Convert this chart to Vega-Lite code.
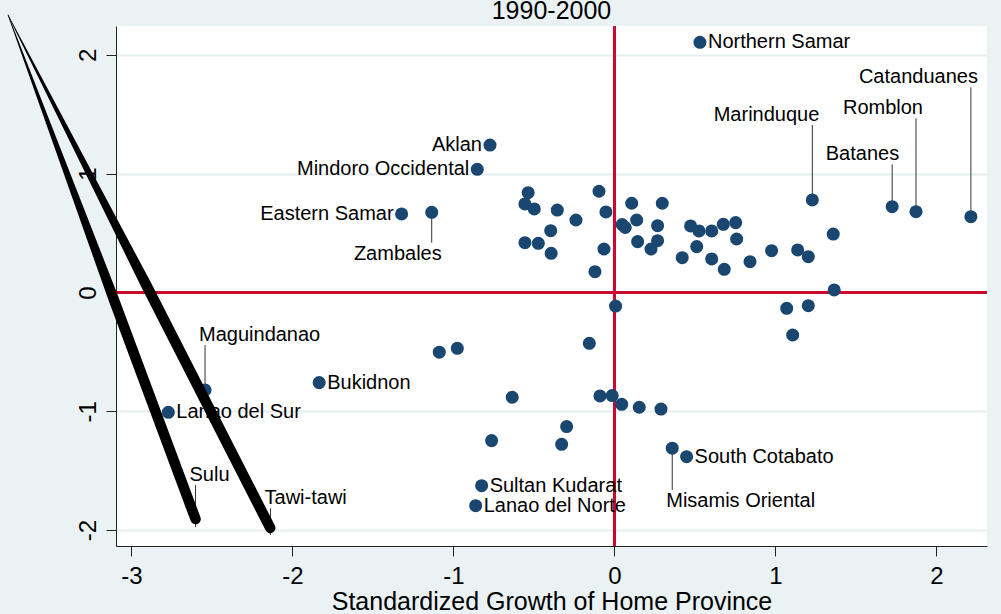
{
  "$schema": "https://vega.github.io/schema/vega-lite/v6.json",
  "width": 871,
  "height": 520,
  "autosize": {"type": "none"},
  "padding": {"left": 116, "top": 26, "right": 14, "bottom": 68},
  "background": "#eaf2f3",
  "datasets": {
    "prov": [
      {"name": "Northern Samar", "x": 0.531, "y": 2.106, "pos": "R"},
      {"name": "Aklan", "x": -0.773, "y": 1.241, "pos": "L"},
      {"name": "Mindoro Occidental", "x": -0.852, "y": 1.037, "pos": "L"},
      {"name": "Eastern Samar", "x": -1.322, "y": 0.661, "pos": "L"},
      {"name": "Zambales", "x": -1.135, "y": 0.675, "pos": "BR", "ly": 0.419},
      {"name": "Marinduque", "x": 1.229, "y": 0.779, "pos": "AR", "ly": 1.41},
      {"name": "Batanes", "x": 1.725, "y": 0.722, "pos": "AR", "ly": 1.079},
      {"name": "Romblon", "x": 1.873, "y": 0.68, "pos": "AR", "ly": 1.466},
      {"name": "Catanduanes", "x": 2.214, "y": 0.638, "pos": "AR", "ly": 1.727},
      {"name": "Maguindanao", "x": -2.543, "y": -0.821, "pos": "AL", "ly": -0.442},
      {"name": "Lanao del Sur", "x": -2.771, "y": -1.009, "pos": "R"},
      {"name": "Bukidnon", "x": -1.834, "y": -0.759, "pos": "R"},
      {"name": "Sultan Kudarat", "x": -0.825, "y": -1.626, "pos": "R"},
      {"name": "Lanao del Norte", "x": -0.862, "y": -1.795, "pos": "R"},
      {"name": "South Cotabato", "x": 0.448, "y": -1.382, "pos": "R"},
      {"name": "Misamis Oriental", "x": 0.359, "y": -1.311, "pos": "BL", "ly": -1.662},
      {"name": "Sulu", "x": -2.602, "y": -1.974, "pos": "AL", "ly": -1.62, "marker": false},
      {"name": "Tawi-tawi", "x": -2.136, "y": -2.041, "pos": "AL", "ly": -1.816, "marker": false},
      {"name": "", "x": -0.536, "y": 0.84, "pos": "none"},
      {"name": "", "x": -0.556, "y": 0.745, "pos": "none"},
      {"name": "", "x": -0.498, "y": 0.703, "pos": "none"},
      {"name": "", "x": -0.355, "y": 0.694, "pos": "none"},
      {"name": "", "x": -0.239, "y": 0.61, "pos": "none"},
      {"name": "", "x": -0.096, "y": 0.852, "pos": "none"},
      {"name": "", "x": -0.053, "y": 0.678, "pos": "none"},
      {"name": "", "x": -0.396, "y": 0.52, "pos": "none"},
      {"name": "", "x": -0.556, "y": 0.419, "pos": "none"},
      {"name": "", "x": -0.473, "y": 0.414, "pos": "none"},
      {"name": "", "x": -0.393, "y": 0.33, "pos": "none"},
      {"name": "", "x": -0.065, "y": 0.366, "pos": "none"},
      {"name": "", "x": -0.121, "y": 0.175, "pos": "none"},
      {"name": "", "x": 0.107, "y": 0.751, "pos": "none"},
      {"name": "", "x": 0.297, "y": 0.751, "pos": "none"},
      {"name": "", "x": 0.048, "y": 0.572, "pos": "none"},
      {"name": "", "x": 0.067, "y": 0.547, "pos": "none"},
      {"name": "", "x": 0.138, "y": 0.61, "pos": "none"},
      {"name": "", "x": 0.268, "y": 0.562, "pos": "none"},
      {"name": "", "x": 0.144, "y": 0.428, "pos": "none"},
      {"name": "", "x": 0.268, "y": 0.436, "pos": "none"},
      {"name": "", "x": 0.227, "y": 0.366, "pos": "none"},
      {"name": "", "x": 0.421, "y": 0.293, "pos": "none"},
      {"name": "", "x": 0.473, "y": 0.56, "pos": "none"},
      {"name": "", "x": 0.525, "y": 0.518, "pos": "none"},
      {"name": "", "x": 0.604, "y": 0.518, "pos": "none"},
      {"name": "", "x": 0.676, "y": 0.574, "pos": "none"},
      {"name": "", "x": 0.753, "y": 0.588, "pos": "none"},
      {"name": "", "x": 0.759, "y": 0.45, "pos": "none"},
      {"name": "", "x": 0.511, "y": 0.386, "pos": "none"},
      {"name": "", "x": 0.604, "y": 0.282, "pos": "none"},
      {"name": "", "x": 0.682, "y": 0.195, "pos": "none"},
      {"name": "", "x": 0.842, "y": 0.259, "pos": "none"},
      {"name": "", "x": 0.976, "y": 0.352, "pos": "none"},
      {"name": "", "x": 1.138, "y": 0.358, "pos": "none"},
      {"name": "", "x": 1.204, "y": 0.301, "pos": "none"},
      {"name": "", "x": 1.359, "y": 0.492, "pos": "none"},
      {"name": "", "x": 1.365, "y": 0.021, "pos": "none"},
      {"name": "", "x": 1.07, "y": -0.133, "pos": "none"},
      {"name": "", "x": 1.204, "y": -0.111, "pos": "none"},
      {"name": "", "x": 1.107, "y": -0.358, "pos": "none"},
      {"name": "", "x": 0.007, "y": -0.114, "pos": "none"},
      {"name": "", "x": -0.156, "y": -0.428, "pos": "none"},
      {"name": "", "x": -0.635, "y": -0.882, "pos": "none"},
      {"name": "", "x": -0.09, "y": -0.871, "pos": "none"},
      {"name": "", "x": -0.014, "y": -0.868, "pos": "none"},
      {"name": "", "x": 0.045, "y": -0.941, "pos": "none"},
      {"name": "", "x": 0.154, "y": -0.966, "pos": "none"},
      {"name": "", "x": 0.289, "y": -0.981, "pos": "none"},
      {"name": "", "x": -0.297, "y": -1.129, "pos": "none"},
      {"name": "", "x": -0.328, "y": -1.278, "pos": "none"},
      {"name": "", "x": -1.088, "y": -0.503, "pos": "none"},
      {"name": "", "x": -0.976, "y": -0.47, "pos": "none"},
      {"name": "", "x": -0.763, "y": -1.247, "pos": "none"}
    ],
    "arrows": [
      {"arrow": "Sulu", "seq": 0, "x": -3.767, "y": 2.336, "w": 0},
      {"arrow": "Sulu", "seq": 1, "x": -3.109, "y": -0.061, "w": 1},
      {"arrow": "Sulu", "seq": 2, "x": -2.602, "y": -1.907, "w": 1},
      {"arrow": "Tawi-tawi", "seq": 0, "x": -3.767, "y": 2.336, "w": 0},
      {"arrow": "Tawi-tawi", "seq": 1, "x": -2.909, "y": 0.065, "w": 1},
      {"arrow": "Tawi-tawi", "seq": 2, "x": -2.138, "y": -1.982, "w": 1}
    ],
    "heading": [
      {"title": "1990-2000", "x": -0.391, "y": 2.306}
    ]
  },
  "encoding": {
    "x": {
      "field": "x",
      "type": "quantitative",
      "scale": {"domain": [-3.096, 2.314], "nice": false, "zero": false},
      "axis": {
        "values": [-3, -2, -1, 0, 1, 2],
        "labelExpr": "toString(datum.value)",
        "grid": false,
        "title": "Standardized Growth of Home Province",
        "titleFontSize": 25,
        "titleFontWeight": "normal",
        "titleColor": "black",
        "titlePadding": 1,
        "labelFontSize": 24,
        "labelColor": "black",
        "labelPadding": 8,
        "tickSize": 10,
        "tickColor": "#222",
        "domainColor": "#222",
        "labelFlush": false,
        "zindex": 1
      }
    },
    "y": {
      "field": "y",
      "type": "quantitative",
      "scale": {"domain": [-2.134, 2.243], "nice": false, "zero": false},
      "axis": {
        "values": [-2, -1, 0, 1, 2],
        "labelExpr": "toString(datum.value)",
        "grid": true,
        "gridColor": "#e6eef0",
        "gridWidth": 2,
        "title": null,
        "labelAngle": -90,
        "labelAlign": "center",
        "labelBaseline": "bottom",
        "labelFontSize": 24,
        "labelColor": "black",
        "labelPadding": 6,
        "tickSize": 10,
        "tickColor": "#222",
        "domainColor": "#222",
        "labelFlush": false
      }
    }
  },
  "layer": [
    {
      "data": {"name": "prov"},
      "mark": {"type": "rule", "color": "#cc0a2f", "strokeWidth": 2},
      "encoding": {"x": {"datum": 0, "type": "quantitative"}, "y": null}
    },
    {
      "data": {"name": "prov"},
      "mark": {"type": "rule", "color": "#cc0a2f", "strokeWidth": 2},
      "encoding": {"y": {"datum": 0, "type": "quantitative"}, "x": null}
    },
    {
      "data": {"name": "prov"},
      "transform": [{"filter": "isValid(datum.ly)"}],
      "mark": {"type": "rule", "color": "#333333", "strokeWidth": 1},
      "encoding": {"y2": {"field": "ly"}}
    },
    {
      "data": {"name": "prov"},
      "transform": [{"filter": "datum.marker !== false"}],
      "mark": {"type": "circle", "size": 170, "color": "#1a476f", "opacity": 1}
    },
    {
      "data": {"name": "prov"},
      "transform": [{"filter": "datum.pos === 'R'"}],
      "mark": {"type": "text", "align": "left", "baseline": "middle", "dx": 8, "fontSize": 20, "font": "Liberation Sans", "color": "black"},
      "encoding": {"text": {"field": "name"}}
    },
    {
      "data": {"name": "prov"},
      "transform": [{"filter": "datum.pos === 'L'"}],
      "mark": {"type": "text", "align": "right", "baseline": "middle", "dx": -8, "fontSize": 20, "font": "Liberation Sans", "color": "black"},
      "encoding": {"text": {"field": "name"}}
    },
    {
      "data": {"name": "prov"},
      "transform": [{"filter": "datum.pos === 'AR'"}],
      "mark": {"type": "text", "align": "right", "baseline": "alphabetic", "dx": 7, "dy": -4, "fontSize": 20, "font": "Liberation Sans", "color": "black"},
      "encoding": {"y": {"field": "ly", "type": "quantitative"}, "text": {"field": "name"}}
    },
    {
      "data": {"name": "prov"},
      "transform": [{"filter": "datum.pos === 'AL'"}],
      "mark": {"type": "text", "align": "left", "baseline": "alphabetic", "dx": -6, "dy": -4, "fontSize": 20, "font": "Liberation Sans", "color": "black"},
      "encoding": {"y": {"field": "ly", "type": "quantitative"}, "text": {"field": "name"}}
    },
    {
      "data": {"name": "prov"},
      "transform": [{"filter": "datum.pos === 'BR'"}],
      "mark": {"type": "text", "align": "right", "baseline": "top", "dx": 10, "dy": 1, "fontSize": 20, "font": "Liberation Sans", "color": "black"},
      "encoding": {"y": {"field": "ly", "type": "quantitative"}, "text": {"field": "name"}}
    },
    {
      "data": {"name": "prov"},
      "transform": [{"filter": "datum.pos === 'BL'"}],
      "mark": {"type": "text", "align": "left", "baseline": "top", "dx": -6, "dy": 1, "fontSize": 20, "font": "Liberation Sans", "color": "black"},
      "encoding": {"y": {"field": "ly", "type": "quantitative"}, "text": {"field": "name"}}
    },
    {
      "data": {"name": "heading"},
      "mark": {"type": "text", "align": "center", "baseline": "alphabetic", "fontSize": 25, "font": "Liberation Sans", "color": "black"},
      "encoding": {"text": {"field": "title"}}
    },
    {
      "data": {"name": "arrows"},
      "mark": {"type": "trail", "color": "black"},
      "encoding": {
        "size": {"field": "w", "type": "quantitative", "scale": {"domain": [0, 1], "range": [0.6, 10.5]}, "legend": null},
        "detail": {"field": "arrow"},
        "order": {"field": "seq"}
      }
    }
  ],
  "config": {
    "font": "Liberation Sans",
    "view": {"stroke": null, "fill": "white"},
    "axis": {"labelFont": "Liberation Sans", "titleFont": "Liberation Sans"}
  }
}
